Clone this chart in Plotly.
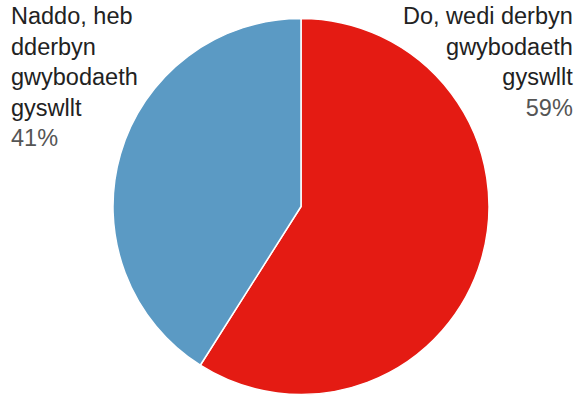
import plotly.graph_objects as go

labels = ["Do, wedi derbyn gwybodaeth gyswllt", "Naddo, heb dderbyn gwybodaeth gyswllt"]
values = [59, 41]
colors = ["#e41b13", "#5b9ac4"]
label_lines = [["Do, wedi derbyn", "gwybodaeth", "gyswllt"], ["Naddo, heb", "dderbyn", "gwybodaeth", "gyswllt"]]

W, H = 580, 396
fig = go.Figure(go.Pie(
    labels=labels, values=values, sort=False, direction="clockwise", rotation=0,
    marker=dict(colors=colors, line=dict(color="white", width=1.5)),
    textinfo="none", hoverinfo="label+percent", showlegend=False,
    domain=dict(x=[113 / W, 489 / W], y=[1 / H, 378 / H]),
))

total = sum(values)
def ann_text(lines, v):
    pct = round(100 * v / total)
    return "<br>".join(lines) + f"<br><span style='color:#555555'>{pct}%</span>"

fig.add_annotation(text=ann_text(label_lines[1], values[1]), x=9 / W, y=1 - 1 / H,
                   xref="paper", yref="paper", xanchor="left", yanchor="top",
                   align="left", showarrow=False, font=dict(size=23.5, color="#222222"))
fig.add_annotation(text=ann_text(label_lines[0], values[0]), x=575 / W, y=1 - 1 / H,
                   xref="paper", yref="paper", xanchor="right", yanchor="top",
                   align="right", showarrow=False, font=dict(size=23.5, color="#222222"))

fig.update_layout(width=W, height=H, margin=dict(l=0, r=0, t=0, b=0),
                  paper_bgcolor="white", plot_bgcolor="white",
                  font=dict(family="Liberation Sans, Arial, sans-serif"))
fig.write_html("out.html")
